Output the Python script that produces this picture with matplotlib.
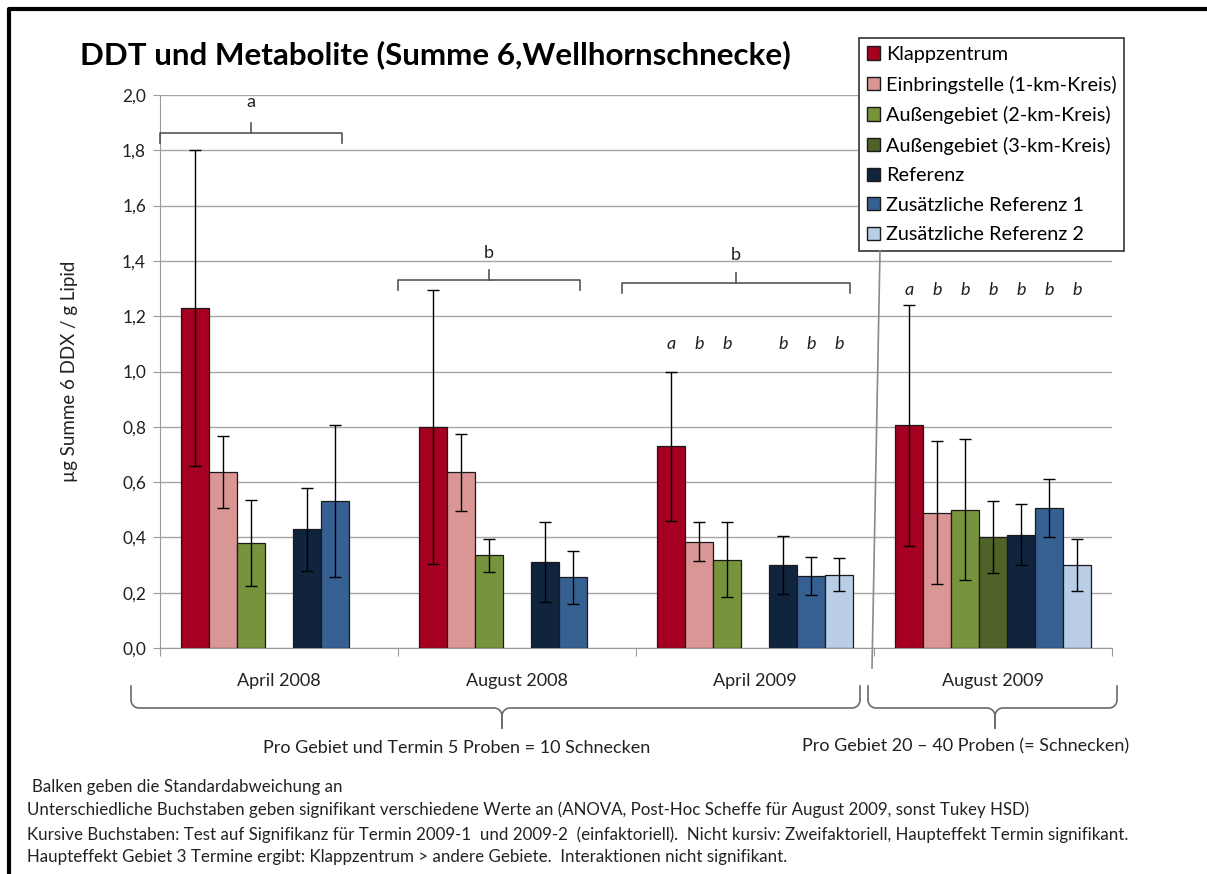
import matplotlib.pyplot as plt
import numpy as np
from matplotlib.patches import Patch

plt.rcParams['font.family'] = ['Lato', 'DejaVu Sans']

# ---------- data ----------
termine = ["April 2008", "August 2008", "April 2009", "August 2009"]
gebiete = ["Klappzentrum", "Einbringstelle (1-km-Kreis)", "Außengebiet (2-km-Kreis)",
           "Außengebiet (3-km-Kreis)", "Referenz", "Zusätzliche Referenz 1",
           "Zusätzliche Referenz 2"]
farben = ["#A50021", "#D99694", "#77933C", "#4F6228", "#10243E", "#376092", "#B9CDE5"]

nan = np.nan
# mean per Gebiet, one value per Termin
klapp = [1.23, 0.80, 0.73, 0.805]
einbr = [0.635, 0.635, 0.385, 0.49]
aussen2 = [0.38, 0.335, 0.32, 0.50]
aussen3 = [nan, nan, nan, 0.40]
referenz = [0.43, 0.31, 0.30, 0.41]
zus1 = [0.53, 0.255, 0.26, 0.505]
zus2 = [nan, nan, 0.265, 0.30]
# standard deviation
klapp_sd = [0.57, 0.495, 0.27, 0.435]
einbr_sd = [0.13, 0.14, 0.07, 0.26]
aussen2_sd = [0.155, 0.06, 0.135, 0.255]
aussen3_sd = [nan, nan, nan, 0.13]
referenz_sd = [0.15, 0.145, 0.105, 0.11]
zus1_sd = [0.275, 0.095, 0.07, 0.105]
zus2_sd = [nan, nan, 0.06, 0.095]

werte = [klapp, einbr, aussen2, aussen3, referenz, zus1, zus2]
fehler = [klapp_sd, einbr_sd, aussen2_sd, aussen3_sd, referenz_sd, zus1_sd, zus2_sd]

# italic letters per Gebiet (None = no bar)
buchst_apr09 = ["a", "b", "b", None, "b", "b", "b"]
buchst_aug09 = ["a", "b", "b", "b", "b", "b", "b"]

W, H = 1207, 874
fig = plt.figure(figsize=(W / 100, H / 100), dpi=100)
ax = fig.add_axes([160 / W, 1 - 648 / H, (1112 - 160) / W, (648 - 95) / H])

bw = 0.118
x = np.arange(len(termine))
for k in range(len(gebiete)):
    pos = x - 3.5 * bw + bw * (k + 0.5)
    ax.bar(pos, werte[k], bw, color=farben[k], edgecolor="#1a1a1a", linewidth=0.9,
           label=gebiete[k], zorder=3)
    ax.errorbar(pos, werte[k], yerr=fehler[k], fmt="none", ecolor="black",
                elinewidth=1, capsize=4, capthick=1, zorder=4)

ax.set_xlim(-0.5, 3.5)
ax.set_ylim(0, 2.0)
yt = np.arange(0, 2.01, 0.2)
ax.set_yticks(yt)
ax.set_yticklabels([f"{v:.1f}".replace(".", ",") for v in yt], fontsize=12.5, color="#222222")
ax.set_xticks([-0.5, 0.5, 1.5, 2.5, 3.5])
ax.set_xticklabels([])
ax.set_xticks(x, minor=True)
ax.set_xticklabels(termine, minor=True, fontsize=13, color="#222222")
ax.tick_params(axis="x", which="minor", length=0, pad=18)
ax.tick_params(axis="x", which="major", length=6, color="#9a9a9a", direction="out")
ax.tick_params(axis="y", length=5, color="#9a9a9a", pad=5)
ax.grid(axis="y", color="#a6a6a6", linewidth=1, zorder=0)
ax.set_axisbelow(True)
for s in ["top", "right"]:
    ax.spines[s].set_visible(False)
for s in ["left", "bottom"]:
    ax.spines[s].set_color("#9a9a9a")
ax.set_ylabel("µg Summe 6 DDX / g Lipid", fontsize=13.5, color="#222222")
ax.yaxis.set_label_coords((78 - 160) / (1112 - 160), 0.5)

# italic significance letters
for buchst, t, yy in [(buchst_apr09, 2, 1.10), (buchst_aug09, 3, 1.295)]:
    for k, b in enumerate(buchst):
        if b is None:
            continue
        ax.text(t - 3.5 * bw + bw * (k + 0.5), yy, b, style="italic", fontsize=13,
                ha="center", va="center", color="#1f1f1f")


# top brackets (two-factor result)
def klammer(x0, x1, y, lab, ylab):
    xm = (x0 + x1) / 2
    ax.plot([x0, x0, x1, x1], [y - 0.035, y, y, y - 0.035], color="#555555", lw=1.2,
            zorder=5, clip_on=False)
    ax.plot([xm, xm], [y, y + 0.035], color="#555555", lw=1.2, zorder=5)
    ax.text(xm, ylab, lab, fontsize=13, ha="center", va="center", color="#222222")


klammer(-0.5, 0.265, 1.862, "a", 1.975)
klammer(0.5, 1.265, 1.331, "b", 1.428)
klammer(1.44, 2.40, 1.320, "b", 1.421)

leg = fig.legend(handles=[Patch(facecolor=c, edgecolor="#1a1a1a", label=g)
                          for c, g in zip(farben, gebiete)],
                 loc="upper left", bbox_to_anchor=(859 / W, 1 - 38 / H),
                 frameon=True, fancybox=False, edgecolor="#333333", framealpha=1,
                 fontsize=14.3, handlelength=0.65, handleheight=0.65, handletextpad=0.3,
                 labelspacing=0.63, borderpad=0.4, borderaxespad=0)
leg.get_frame().set_linewidth(1.2)

# overlay in pixel coordinates for braces, texts and frame
ov2 = fig.add_axes([0, 0, 1, 1], zorder=10)
ov2.set_xlim(0, W)
ov2.set_ylim(H, 0)
ov2.axis("off")
ov2.patch.set_alpha(0)


def geschweift(x0, x1, xm, ytop, ymid, ytip, r=8):
    t = np.linspace(0, np.pi / 2, 12)
    for sgn, xe in [(1, x0), (-1, x1)]:
        xs = [xe] + list(xe + sgn * (r - r * np.cos(t))) \
            + list(xm - sgn * (r - r * np.sin(t))) + [xm]
        ys = [ytop] + list(ymid - r + r * np.sin(t)) \
            + list(ymid + r - r * np.cos(t)) + [ytip]
        ov2.plot(xs, ys, color="#6a6a6a", lw=1.2)


geschweift(131, 860, 502, 686, 708, 728)
geschweift(868, 1117, 995, 686, 708, 728)

ov2.text(457, 748, "Pro Gebiet und Termin 5 Proben = 10 Schnecken", fontsize=13,
         ha="center", va="center", color="#222222")
ov2.text(966, 746, "Pro Gebiet 20 – 40 Proben (= Schnecken)", fontsize=13,
         ha="center", va="center", color="#222222")

# separator line between the two sampling designs
ov2.plot([880, 872], [251, 668], color="#8a8a8a", lw=1.2)

ov2.text(80, 55, "DDT und Metabolite (Summe 6,Wellhornschnecke)", fontsize=22.6,
         fontweight="bold", ha="left", va="center", color="black")

fuss = ["Balken geben die Standardabweichung an",
        "Unterschiedliche Buchstaben geben signifikant verschiedene Werte an (ANOVA, Post-Hoc Scheffe für August 2009, sonst Tukey HSD)",
        "Kursive Buchstaben: Test auf Signifikanz für Termin 2009-1  und 2009-2  (einfaktoriell).  Nicht kursiv: Zweifaktoriell, Haupteffekt Termin signifikant.",
        "Haupteffekt Gebiet 3 Termine ergibt: Klappzentrum > andere Gebiete.  Interaktionen nicht signifikant."]
for s, yy, xx in zip(fuss, [787, 810, 835, 857], [32, 27, 27, 27]):
    ov2.text(xx, yy, s, fontsize=12.2, ha="left", va="center", color="#222222")

# frame of the picture
ov2.plot([9, 9, W], [H, 9, 9], color="black", lw=3)

fig.savefig("out.png", dpi=100)
